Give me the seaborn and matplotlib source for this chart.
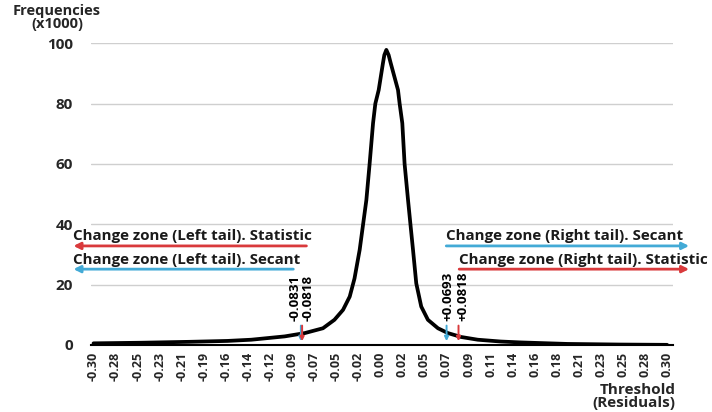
import numpy as np
import pandas as pd
import matplotlib
matplotlib.use("Agg")
import matplotlib.pyplot as plt
import seaborn as sns

# distribution of residuals (frequencies x1000)
residuals = [-0.300, -0.250, -0.200, -0.160, -0.135, -0.100, -0.079, -0.060,
             -0.048, -0.039, -0.032, -0.027, -0.0216, -0.018, -0.0146, -0.0112,
             -0.0076, -0.0052, -0.0017, 0.0028, 0.0042, 0.0063, 0.0087, 0.0108,
             0.0185, 0.0202, 0.0230, 0.0254, 0.0290, 0.0315, 0.0342, 0.0376,
             0.0428, 0.0498, 0.0603, 0.0707, 0.0846, 0.102, 0.126, 0.147, 0.196,
             0.250, 0.300]
frequencies = [0.5, 0.7, 1.0, 1.3, 1.7, 2.8, 3.9, 5.5,
               8.3, 11.6, 16.0, 22.0, 31.5, 40.0, 48.0, 60.0,
               73.5, 80.0, 84.5, 93.5, 96.1, 97.8, 96.1, 93.5,
               84.5, 80.0, 73.5, 60.0, 48.0, 40.0, 31.5, 20.4,
               12.7, 8.3, 5.5, 3.9, 2.6, 1.7, 1.1, 0.8, 0.3,
               0.1, 0.0]

x_tick_labels = ["-0.30", "-0.28", "-0.25", "-0.23", "-0.21", "-0.19", "-0.16",
                 "-0.14", "-0.12", "-0.09", "-0.07", "-0.05", "-0.02", "0.00",
                 "0.02", "0.05", "0.07", "0.09", "0.11", "0.14", "0.16", "0.18",
                 "0.21", "0.23", "0.25", "0.28", "0.30"]
x_ticks = np.linspace(-0.30, 0.30, len(x_tick_labels))
y_ticks = [0, 20, 40, 60, 80, 100]

thresholds = [-0.0831, -0.0818, 0.0693, 0.0818]
threshold_labels = ["-0.0831", "-0.0818", "+0.0693", "+0.0818"]
threshold_kind = ["Secant", "Statistic", "Secant", "Statistic"]

zone_texts = ["Change zone (Left tail). Statistic", "Change zone (Left tail). Secant",
              "Change zone (Right tail). Secant", "Change zone (Right tail). Statistic"]
zone_start = [-0.0773, -0.0910, 0.0690, 0.0825]
zone_end = [-0.321, -0.321, 0.323, 0.323]
zone_level = [32.8, 25.1, 32.8, 25.1]
zone_kind = ["Statistic", "Secant", "Secant", "Statistic"]

BLUE = "#43aad6"
RED = "#d93a3c"
kind_color = {"Secant": BLUE, "Statistic": RED}

sns.set_theme(style="white")
plt.rcParams["font.family"] = ["Open Sans", "DejaVu Sans"]

fig = plt.figure(figsize=(7.12, 4.12), dpi=100)
ax = fig.add_axes([0.128, 0.163, 0.817, 0.732])

df = pd.DataFrame({"Residual": residuals, "Frequency": frequencies})
sns.lineplot(data=df, x="Residual", y="Frequency", ax=ax, color="black",
             linewidth=2.7, sort=True)

ax.set_xlim(-0.3025, 0.306)
ax.set_ylim(0, 100)
ax.set_xticks(x_ticks)
ax.set_xticklabels(x_tick_labels, rotation=90, fontsize=9, fontweight="bold")
ax.set_yticks(y_ticks)
ax.set_yticklabels([str(v) for v in y_ticks], fontsize=11, fontweight="bold")
ax.tick_params(axis="x", length=0, pad=5)
ax.tick_params(axis="y", length=0, pad=13)
ax.yaxis.grid(True, color="#cfcfcf", linewidth=1)
ax.set_axisbelow(True)
for s in ["top", "right", "left"]:
    ax.spines[s].set_visible(False)
ax.spines["bottom"].set_color("black")
ax.spines["bottom"].set_linewidth(1.5)
ax.set_xlabel("")
ax.set_ylabel("")

# threshold markers and their labels
label_shift = [-4.2, 4.6, 1.0, 3.4]
for t, lab, k, dx in zip(thresholds, threshold_labels, threshold_kind, label_shift):
    c = kind_color[k]
    ax.annotate("", xy=(t, 0.3), xytext=(t, 7.3),
                arrowprops=dict(arrowstyle="-|>", color=c, lw=1.4, mutation_scale=6))
    ax.annotate(lab, xy=(t, 7.8), xytext=(dx, 0), textcoords="offset points",
                rotation=90, ha="center", va="bottom", fontsize=9.5,
                fontweight="bold", color="black")

# change zone arrows
for txt, x0, x1, lvl, k in zip(zone_texts, zone_start, zone_end, zone_level, zone_kind):
    c = kind_color[k]
    ax.annotate("", xy=(x1, lvl), xytext=(x0, lvl), annotation_clip=False,
                arrowprops=dict(arrowstyle="-|>", color=c, lw=2, mutation_scale=10,
                                shrinkA=0, shrinkB=0))
    ax.text(min(x0, x1), lvl + 1.8, txt, ha="left", va="baseline",
            fontsize=10.9, fontweight="bold", color="#1a1a1a", clip_on=False)

fig.text(0.08, 0.99, "Frequencies\n(x1000)", ha="center", va="top",
         fontsize=10.5, fontweight="bold", linespacing=0.9)
fig.text(0.949, 0.005, "Threshold\n(Residuals)", ha="right", va="bottom",
         fontsize=11, fontweight="bold", linespacing=0.9)

fig.savefig("out.png", dpi=100)
